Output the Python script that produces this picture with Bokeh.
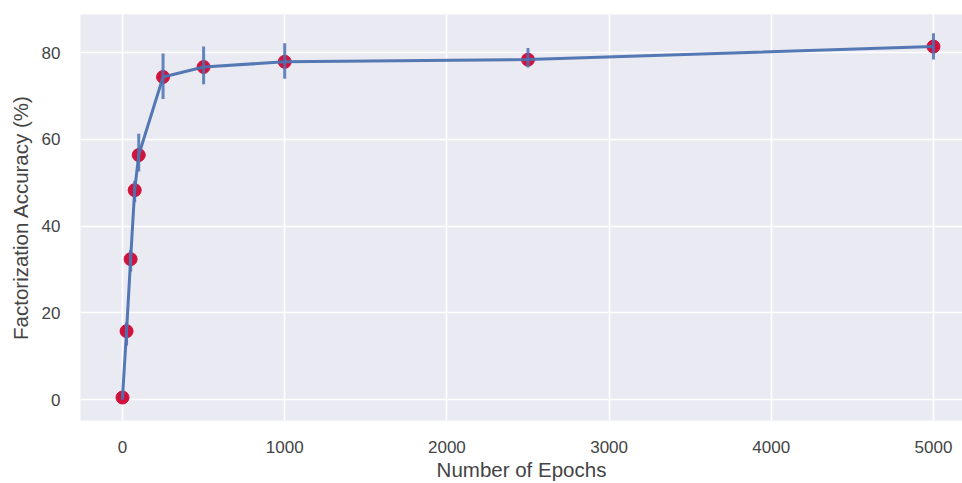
from bokeh.plotting import figure
from bokeh.models import Range1d, FixedTicker
from bokeh.embed import file_html
from bokeh.resources import INLINE

epochs = [0, 25, 50, 75, 100, 250, 500, 1000, 2500, 5000]
accuracy = [0.5, 15.8, 32.4, 48.3, 56.4, 74.4, 76.7, 77.9, 78.4, 81.4]
acc_low = [0.0, 12.5, 29.5, 45.5, 52.6, 69.3, 72.7, 74.0, 76.6, 78.4]
acc_high = [1.0, 17.8, 34.5, 50.5, 61.3, 79.8, 81.4, 82.2, 81.1, 84.5]
x_ticks = [0, 1000, 2000, 3000, 4000, 5000]
y_ticks = [0, 20, 40, 60, 80]

p = figure(width=962, height=483, output_backend="svg", toolbar_location=None,
           x_range=Range1d(-259, 5179), y_range=Range1d(-4.8, 88.8),
           min_border_left=80, min_border_right=0, min_border_top=14, min_border_bottom=59)

p.background_fill_color = "#EAEAF2"
p.border_fill_color = "white"
p.outline_line_color = None

for ax in (p.xaxis[0], p.yaxis[0]):
    ax.axis_line_color = None
    ax.major_tick_line_color = None
    ax.minor_tick_line_color = None
    ax.major_label_text_font = "Liberation Sans"
    ax.major_label_text_font_size = "17px"
    ax.major_label_text_color = "#444444"
    ax.axis_label_text_font = "Liberation Sans"
    ax.axis_label_text_font_size = "20.5px"
    ax.axis_label_text_font_style = "normal"
    ax.axis_label_text_color = "#444444"

p.xaxis.ticker = FixedTicker(ticks=x_ticks)
p.yaxis.ticker = FixedTicker(ticks=y_ticks)
p.xaxis.axis_label = "Number of Epochs"
p.yaxis.axis_label = "Factorization Accuracy (%)"
p.xaxis.major_label_standoff = 14
p.yaxis.major_label_standoff = 14
p.xaxis.axis_label_standoff = 2
p.yaxis.axis_label_standoff = 7

p.grid.grid_line_color = "white"
p.grid.grid_line_width = 1.6
p.xgrid.ticker = FixedTicker(ticks=x_ticks)
p.ygrid.ticker = FixedTicker(ticks=y_ticks)

p.scatter(epochs, accuracy, size=13, fill_color="#D2123C", line_color="#D2123C")
p.line(epochs, accuracy, line_color="#4C72B0", line_width=3, line_alpha=0.95)
p.segment(x0=epochs, y0=acc_low, x1=epochs, y1=acc_high,
          line_color="#4C72B0", line_width=3, line_alpha=0.85)

open("out.html", "w").write(file_html(p, INLINE))
